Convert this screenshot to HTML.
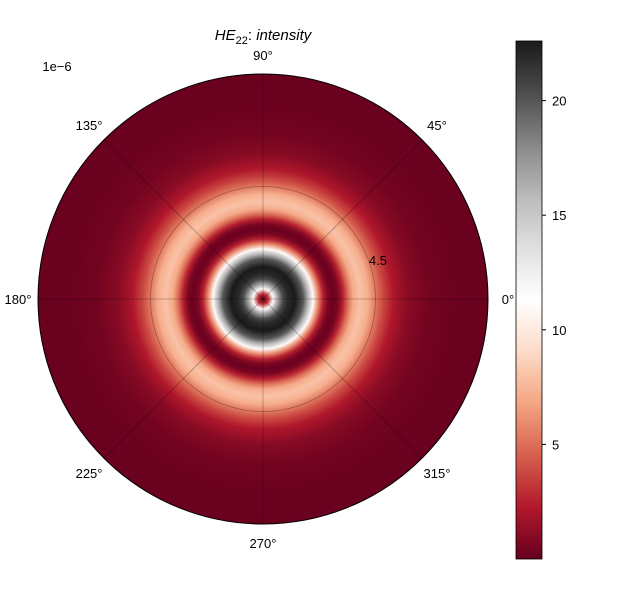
<!DOCTYPE html>
<html><head><meta charset="utf-8"><style>
body{margin:0;background:#fff;}
svg text{font-family:"Liberation Sans","DejaVu Sans",sans-serif;font-size:13px;fill:#000;}
</style></head><body>
<svg id="chart" width="630" height="600" viewBox="0 0 630 600" xmlns="http://www.w3.org/2000/svg">
<defs id="defs"></defs>
<g id="plot"></g>
<g id="cbar"></g>
<g id="labels"></g>
</svg>
<script>
// radial profile (radius in units of 1e-6, intensity)
const radii = [0, 0.2, 0.4, 0.6, 0.8, 1.0, 1.28, 1.6, 1.8, 2.0, 2.2, 2.4, 2.6, 2.8, 3.0, 3.2, 3.4, 3.6, 3.88, 4.2, 4.48, 4.8, 5.2, 5.8, 6.6, 7.6, 9.0];
const intensity = [0.2, 3, 11, 17, 20.5, 22, 22.6, 20, 16, 11, 6, 2.5, 0.6, 0.1, 0.6, 2.5, 5, 7, 8, 7.2, 5.5, 3.8, 2.2, 1.0, 0.4, 0.15, 0.05];
const cbarTicks = [5, 10, 15, 20];
const angleTicks = [0, 45, 90, 135, 180, 225, 270, 315];
const rTicks = [4.5];
const vmin = 0, vmax = 22.6, rmax = 9.0;

const NS = "http://www.w3.org/2000/svg";
const cx = 263, cy = 299, R = 225;
const cmap = ["#67001f","#b2182b","#d6604d","#f4a582","#fddbc7","#ffffff","#e0e0e0","#bababa","#878787","#4d4d4d","#1a1a1a"];
function hex(h){return [1,3,5].map(i=>parseInt(h.substr(i,2),16));}
function color(v){
  let t = Math.max(0, Math.min(1, (v - vmin) / (vmax - vmin))) * 10;
  let i = Math.min(9, Math.floor(t)), f = t - i;
  let a = hex(cmap[i]), b = hex(cmap[i+1]);
  return "rgb(" + a.map((x,k)=>Math.round(x + (b[k]-x)*f)).join(",") + ")";
}
function rScale(r){return r / rmax * R;}
function mk(tag, attrs, parent){const e=document.createElementNS(NS,tag);for(const k in attrs)e.setAttribute(k,attrs[k]);parent.appendChild(e);return e;}

const defs = document.getElementById('defs');
const plot = document.getElementById('plot');
const cbar = document.getElementById('cbar');
const labels = document.getElementById('labels');

const rg = mk('radialGradient', {id:'rg', cx:cx, cy:cy, r:R, gradientUnits:'userSpaceOnUse'}, defs);
radii.forEach((r,i)=>{ mk('stop', {offset: r/rmax, 'stop-color': color(intensity[i])}, rg); });

const disc = mk('circle', {cx:cx, cy:cy, r:R, fill:'url(#rg)'}, plot);



angleTicks.forEach(a=>{
  const rad = a*Math.PI/180;
  const l = mk('line', {x1:cx, y1:cy, x2:cx+R*Math.cos(rad), y2:cy-R*Math.sin(rad), stroke:'#000', 'stroke-opacity':0.3, 'stroke-width':0.8}, plot);
  
  
  const lr = (a%180===0) ? 245 : (a%90===0 ? 244 : 246);
  const t = mk('text', {x:cx+lr*Math.cos(rad), y:cy-lr*Math.sin(rad)+5, 'text-anchor':'middle'}, labels);
  t.textContent = a + '°';
  
  
});
rTicks.forEach(r=>{
  const c = mk('circle', {cx:cx, cy:cy, r:rScale(r), fill:'none', stroke:'#000', 'stroke-opacity':0.3, 'stroke-width':0.8}, plot);
  
  
  const rad = 22.5*Math.PI/180;
  const t = mk('text', {x:cx+rScale(r)*Math.cos(rad)+11, y:cy-rScale(r)*Math.sin(rad)+9, 'text-anchor':'middle'}, labels);
  t.textContent = r;
  
  
});
const border = mk('circle', {cx:cx, cy:cy, r:R, fill:'none', stroke:'#000', 'stroke-width':1}, plot);



const off = mk('text', {x:57, y:71, 'text-anchor':'middle'}, labels);
off.textContent = '1e\u22126';



const title = mk('text', {x:263, y:40, 'text-anchor':'middle', 'font-style':'italic', style:'font-size:15px'}, labels);
title.innerHTML = 'HE<tspan dy="4" style="font-size:11px;font-style:normal">22</tspan><tspan dy="-4" style="font-style:normal">: </tspan>intensity';



const cbX = 516, cbW = 26, cbTop = 41, cbBot = 559;
function cbY(v){return cbBot - (v - vmin)/(vmax - vmin)*(cbBot - cbTop);}
const lg = mk('linearGradient', {id:'lg', x1:0, y1:1, x2:0, y2:0}, defs);
cmap.forEach((c,i)=>mk('stop', {offset:i/10, 'stop-color':c}, lg));
const bar = mk('rect', {x:cbX, y:cbTop, width:cbW, height:cbBot-cbTop, fill:'url(#lg)', stroke:'#000', 'stroke-width':0.8}, cbar);


cbarTicks.forEach(v=>{
  const y = cbY(v);
  const tk = mk('line', {x1:cbX+cbW, y1:y, x2:cbX+cbW+4, y2:y, stroke:'#000'}, cbar);
  
  
  const t = mk('text', {x:cbX+cbW+10, y:y+5}, cbar);
  t.textContent = v;
  
  
});
</script>
</body></html>
